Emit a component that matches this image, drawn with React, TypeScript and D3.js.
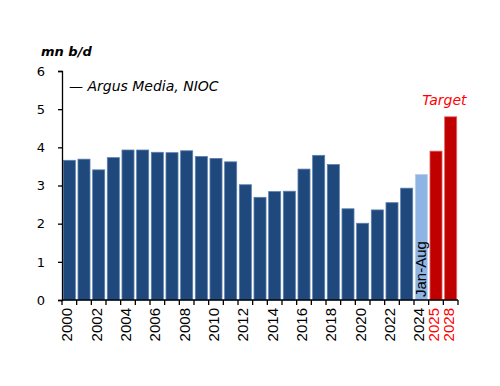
import React, { useRef, useEffect } from "react";
import * as d3 from "d3";

// Crude production, mn b/d
const years = [
  "2000", "2001", "2002", "2003", "2004", "2005", "2006", "2007", "2008", "2009",
  "2010", "2011", "2012", "2013", "2014", "2015", "2016", "2017", "2018", "2019",
  "2020", "2021", "2022", "2023", "2024", "2025", "2028",
];
const production = [
  3.66, 3.69, 3.41, 3.73, 3.93, 3.93, 3.87, 3.86, 3.91, 3.76,
  3.71, 3.62, 3.02, 2.69, 2.84, 2.85, 3.43, 3.79, 3.55, 2.39,
  2.01, 2.36, 2.55, 2.93, 3.29, 3.9, 4.8,
];
// kind of each bar: actual, partial year, target
const kinds = [
  "a", "a", "a", "a", "a", "a", "a", "a", "a", "a",
  "a", "a", "a", "a", "a", "a", "a", "a", "a", "a",
  "a", "a", "a", "a", "p", "t", "t",
];
const yTicks = [0, 1, 2, 3, 4, 5, 6];

const width = 500;
const height = 386;
const margin = { top: 71, right: 42, bottom: 86, left: 62 };

function Chart() {
  const ref = useRef(null);

  useEffect(() => {
    const svg = d3.select(ref.current).html("");
    const innerW = width - margin.left - margin.right;
    const innerH = height - margin.top - margin.bottom;

    const data = years.map((y, i) => ({ year: y, value: production[i], kind: kinds[i] }));

    const x = d3.scaleBand().domain(years).range([0, innerW]).paddingInner(0.18).paddingOuter(0.09);
    const y = d3.scaleLinear().domain([0, 6]).range([innerH, 0]);

    const fill = { a: "#1f497d", p: "#8db4e2", t: "#c00000" };
    const edge = { a: "#5a7fad", p: "#b7d0ee", t: "#e06060" };

    const g = svg.append("g").attr("transform", `translate(${margin.left},${margin.top})`);

    // bars
    g.selectAll("rect.bar")
      .data(data)
      .join("rect")
      .attr("class", "bar")
      .attr("x", (d) => x(d.year))
      .attr("y", (d) => y(d.value))
      .attr("width", x.bandwidth())
      .attr("height", (d) => innerH - y(d.value))
      .attr("fill", (d) => fill[d.kind])
      .attr("stroke", (d) => edge[d.kind])
      .attr("stroke-width", 0.8);

    // y axis
    const yAxis = g.append("g").call(
      d3.axisLeft(y).tickValues(yTicks).tickSize(4).tickPadding(13).tickFormat(d3.format("d"))
    );
    yAxis.select(".domain").attr("stroke", "#000").attr("stroke-width", 1.3);
    yAxis.selectAll(".tick line").attr("stroke", "#000").attr("stroke-width", 1.3);
    yAxis
      .selectAll("text")
      .attr("font-family", "DejaVu Sans, Verdana, sans-serif")
      .attr("font-size", 13)
      .attr("fill", "#000");

    // x axis baseline with ticks at category boundaries
    const step = x.step();
    const boundaries = d3.range(years.length + 1).map((i) => x(years[0]) - (step - x.bandwidth()) / 2 + i * step);
    g.append("line")
      .attr("x1", 0)
      .attr("x2", innerW)
      .attr("y1", innerH)
      .attr("y2", innerH)
      .attr("stroke", "#000")
      .attr("stroke-width", 1.3);
    g.selectAll("line.xtick")
      .data(boundaries)
      .join("line")
      .attr("class", "xtick")
      .attr("x1", (d) => d)
      .attr("x2", (d) => d)
      .attr("y1", innerH)
      .attr("y2", innerH + 5)
      .attr("stroke", "#000")
      .attr("stroke-width", 1.3);

    // x labels: every other year plus targets
    const labelled = data.filter((d, i) => d.kind === "t" || i % 2 === 0);
    g.selectAll("text.xlab")
      .data(labelled)
      .join("text")
      .attr("class", "xlab")
      .attr(
        "transform",
        (d) => `translate(${x(d.year) + x.bandwidth() / 2 + 3},${innerH + 8}) rotate(-90)`
      )
      .attr("text-anchor", "end")
      .attr("font-family", "Liberation Sans, Arial, sans-serif")
      .attr("font-size", 15)
      .attr("fill", (d) => (d.kind === "t" ? "#ff0000" : "#000"))
      .text((d) => d.year);

    // Jan-Aug inside partial-year bar
    const partial = data.find((d) => d.kind === "p");
    g.append("text")
      .attr("transform", `translate(${x(partial.year) + x.bandwidth() / 2 + 5},${innerH - 3}) rotate(-90)`)
      .attr("font-family", "Liberation Sans, Arial, sans-serif")
      .attr("font-size", 15)
      .attr("fill", "#000")
      .text("Jan-Aug");

    // Target label
    const t1 = data[data.length - 2];
    const t2 = data[data.length - 1];
    g.append("text")
      .attr("x", (x(t1.year) + x(t2.year) + x.bandwidth()) / 2 + 1)
      .attr("y", y(t2.value) - 12)
      .attr("text-anchor", "middle")
      .attr("font-family", "DejaVu Sans, Verdana, sans-serif")
      .attr("font-style", "italic")
      .attr("font-size", 14)
      .attr("fill", "#ff0000")
      .text("Target");

    // unit + source
    svg
      .append("text")
      .attr("x", 41)
      .attr("y", 56)
      .attr("font-family", "DejaVu Sans, Verdana, sans-serif")
      .attr("font-style", "italic")
      .attr("font-weight", "bold")
      .attr("font-size", 13)
      .attr("fill", "#000")
      .text("mn b/d");

    svg
      .append("text")
      .attr("x", 69)
      .attr("y", 91)
      .attr("font-family", "DejaVu Sans, Verdana, sans-serif")
      .attr("font-style", "italic")
      .attr("font-size", 14)
      .attr("fill", "#000")
      .text("— Argus Media, NIOC");
  }, []);

  return <svg ref={ref} width={width} height={height} style={{ display: "block" }} />;
}

export default function App() {
  return (
    <div style={{ margin: -8 }}>
      <Chart />
    </div>
  );
}
